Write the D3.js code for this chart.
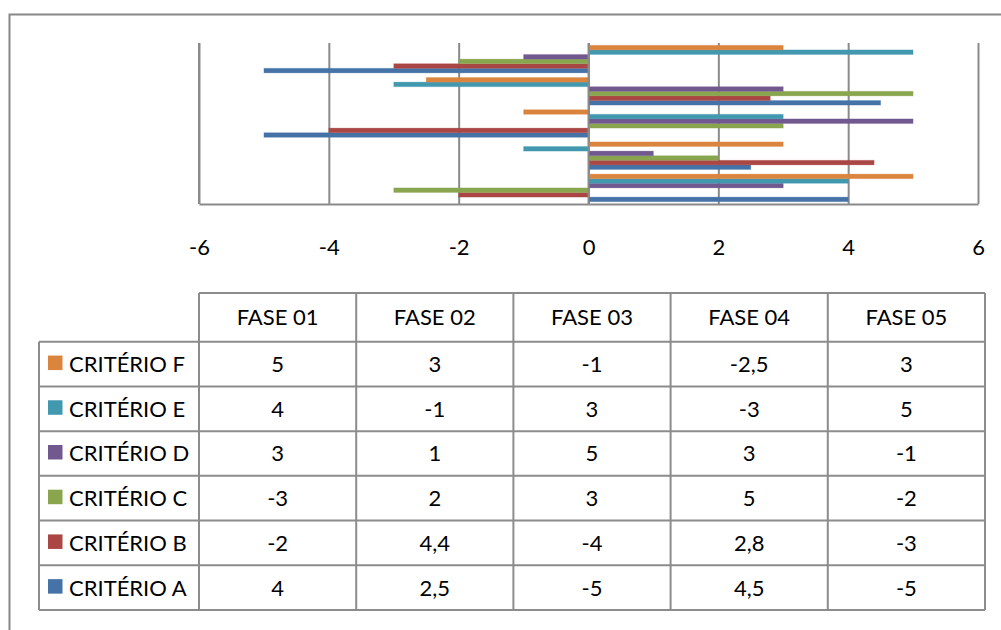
<!DOCTYPE html>
<html>
<head>
<meta charset="utf-8">
<script src="https://cdn.jsdelivr.net/npm/d3@7"></script>
<style>
  html, body { margin: 0; padding: 0; background: #fff; }
  svg { display: block; font-family: Lato, "Open Sans", sans-serif; }
</style>
</head>
<body>
<svg id="chart" width="1001" height="630"></svg>
<script>
// Phases (categories) and criteria (series)
const phases = ["FASE 01", "FASE 02", "FASE 03", "FASE 04", "FASE 05"];
const criteria = ["CRITÉRIO A", "CRITÉRIO B", "CRITÉRIO C", "CRITÉRIO D", "CRITÉRIO E", "CRITÉRIO F"];

// Values per criterion, one entry per phase
const critA = [4, 2.5, -5, 4.5, -5];
const critB = [-2, 4.4, -4, 2.8, -3];
const critC = [-3, 2, 3, 5, -2];
const critD = [3, 1, 5, 3, -1];
const critE = [4, -1, 3, -3, 5];
const critF = [5, 3, -1, -2.5, 3];

// Labels shown in the data table (decimal comma)
const tableLabels = {
  "CRITÉRIO A": ["4", "2,5", "-5", "4,5", "-5"],
  "CRITÉRIO B": ["-2", "4,4", "-4", "2,8", "-3"],
  "CRITÉRIO C": ["-3", "2", "3", "5", "-2"],
  "CRITÉRIO D": ["3", "1", "5", "3", "-1"],
  "CRITÉRIO E": ["4", "-1", "3", "-3", "5"],
  "CRITÉRIO F": ["5", "3", "-1", "-2,5", "3"]
};

const xTicks = [-6, -4, -2, 0, 2, 4, 6];
const colors = ["#4572A7", "#AA4643", "#89A54E", "#71588F", "#4198AF", "#DB843D"];

const seriesValues = [critA, critB, critC, critD, critE, critF];
const series = criteria.map((name, i) => ({ name, values: seriesValues[i], color: colors[i] }));

const svg = d3.select("#chart");
const gridColor = "#8a8a8a";

// Outer chart frame
svg.append("rect")
  .attr("x", 9.5).attr("y", 14.5)
  .attr("width", 1010).attr("height", 640)
  .attr("fill", "none").attr("stroke", "#878787").attr("stroke-width", 2);

// Scales
const plotTop = 43, plotBottom = 204;
const x = d3.scaleLinear().domain([-6, 6]).range([199, 978]);
const yCat = d3.scaleBand()
  .domain(phases.slice().reverse())
  .range([plotTop, plotBottom])
  .paddingInner(0).paddingOuter(0);
const ySub = d3.scaleBand()
  .domain(criteria.slice().reverse())
  .range([0, yCat.bandwidth()])
  .paddingInner(0).paddingOuter(0.5);

// Vertical gridlines
const grid = svg.append("g")
  .attr("transform", `translate(0,${plotBottom})`)
  .call(d3.axisBottom(x).tickValues(xTicks).tickSize(-(plotBottom - plotTop)).tickFormat(""));
grid.select(".domain").remove();
grid.selectAll(".tick line").attr("stroke", gridColor).attr("stroke-width", 2);

// Bars
const barsG = svg.append("g");
series.forEach(s => {
  barsG.selectAll(null)
    .data(s.values.map((v, i) => ({ v, phase: phases[i] })))
    .join("rect")
    .attr("x", d => x(Math.min(0, d.v)))
    .attr("width", d => Math.abs(x(d.v) - x(0)))
    .attr("y", d => yCat(d.phase) + ySub(s.name))
    .attr("height", ySub.bandwidth())
    .attr("fill", s.color)
    .attr("stroke", s.color)
    .attr("stroke-opacity", 0.25)
    .attr("stroke-width", 1);
});

// Redraw the zero line over the bars' edges
svg.append("line")
  .attr("x1", x(0)).attr("x2", x(0))
  .attr("y1", plotTop).attr("y2", plotBottom)
  .attr("stroke", gridColor).attr("stroke-width", 2);

// Value axis: baseline and tick labels
const axis = svg.append("g")
  .attr("transform", `translate(0,${plotBottom})`)
  .call(d3.axisBottom(x).tickValues(xTicks).tickSize(0).tickFormat(d => String(d)));
axis.select(".domain").attr("stroke", gridColor).attr("stroke-width", 2);
axis.selectAll(".tick text")
  .attr("y", 51).attr("dy", 0)
  .attr("font-family", "Lato, 'Open Sans', sans-serif")
  .attr("font-size", 22).attr("fill", "#000");

// Left axis line
svg.append("line")
  .attr("x1", x(-6)).attr("x2", x(-6))
  .attr("y1", plotTop).attr("y2", plotBottom)
  .attr("stroke", gridColor).attr("stroke-width", 2);

// Data table
const tableLeft = 39, colStart = 199, tableRight = 985;
const headerTop = 293, rowTop = 341.7, tableBottom = 610;
const colX = d3.scaleBand().domain(phases).range([colStart, tableRight]);
const rowOrder = criteria.slice().reverse();
const rowY = d3.scaleBand().domain(rowOrder).range([rowTop, tableBottom]);
const lineColor = "#8c8c8c";
const tbl = svg.append("g");

// Horizontal rules
tbl.append("line").attr("x1", colStart).attr("x2", tableRight).attr("y1", headerTop).attr("y2", headerTop);
[rowTop, ...rowOrder.map(r => rowY(r) + rowY.bandwidth())].forEach(yv => {
  tbl.append("line").attr("x1", tableLeft).attr("x2", tableRight).attr("y1", yv).attr("y2", yv);
});
// Vertical rules
tbl.append("line").attr("x1", tableLeft).attr("x2", tableLeft).attr("y1", rowTop).attr("y2", tableBottom);
[colStart, ...phases.map(p => colX(p) + colX.bandwidth())].forEach(xv => {
  tbl.append("line").attr("x1", xv).attr("x2", xv).attr("y1", headerTop).attr("y2", tableBottom);
});
tbl.selectAll("line").attr("stroke", lineColor).attr("stroke-width", 2);

// Header labels
tbl.selectAll("text.head")
  .data(phases)
  .join("text")
  .attr("class", "head")
  .attr("x", d => colX(d) + colX.bandwidth() / 2)
  .attr("y", (headerTop + rowTop) / 2 + 8)
  .attr("text-anchor", "middle")
  .attr("font-size", 22).attr("fill", "#000")
  .text(d => d);

// Rows: legend key, criterion name, values
rowOrder.forEach(name => {
  const s = series.find(d => d.name === name);
  const cy = rowY(name) + rowY.bandwidth() / 2;
  tbl.append("rect")
    .attr("x", 48).attr("y", cy - 8.5)
    .attr("width", 14.5).attr("height", 14.5)
    .attr("fill", s.color);
  tbl.append("text")
    .attr("x", 69).attr("y", cy + 8)
    .attr("font-size", 22).attr("fill", "#000")
    .text(name);
  tbl.selectAll(null)
    .data(tableLabels[name].map((t, i) => ({ t, phase: phases[i] })))
    .join("text")
    .attr("x", d => colX(d.phase) + colX.bandwidth() / 2)
    .attr("y", cy + 8)
    .attr("text-anchor", "middle")
    .attr("font-size", 22).attr("fill", "#000")
    .text(d => d.t);
});
</script>
</body>
</html>
